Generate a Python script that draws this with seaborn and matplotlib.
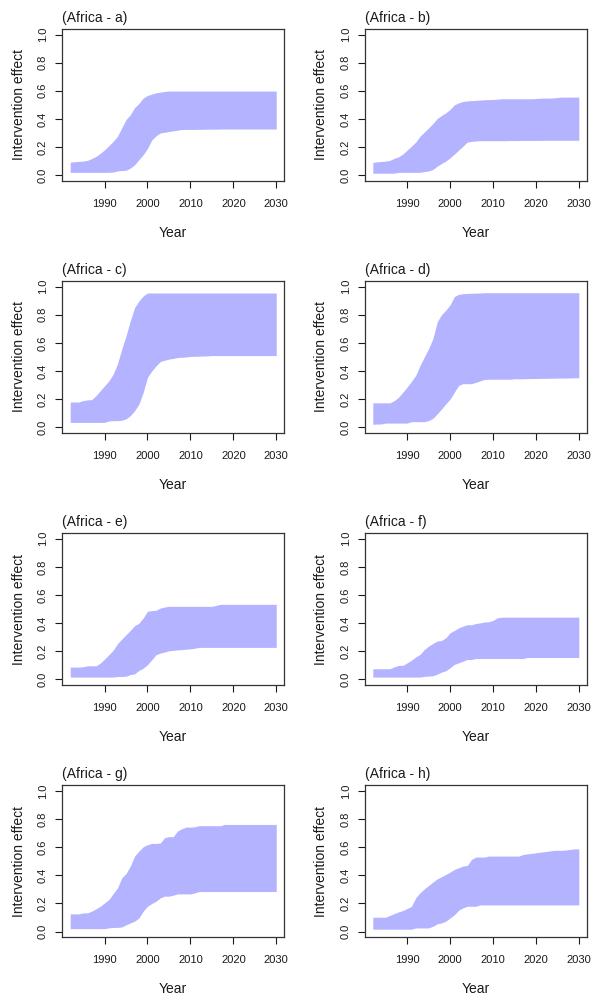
import numpy as np
import pandas as pd
import matplotlib
matplotlib.use("Agg")
import matplotlib.pyplot as plt
import seaborn as sns

# years of the projection, one value per year
years = list(range(1982, 2031))

# lower / upper bounds of the intervention effect
a_upper = [0.093, 0.095, 0.098, 0.10, 0.105, 0.118, 0.133, 0.155, 0.18, 0.21,
           0.24, 0.276, 0.336, 0.395, 0.43, 0.48, 0.51, 0.548, 0.567, 0.576,
           0.586, 0.59, 0.595, 0.598, 0.598, 0.598, 0.598, 0.598, 0.598, 0.598,
           0.598, 0.598, 0.598, 0.598, 0.598, 0.598, 0.598, 0.598, 0.598, 0.598,
           0.598, 0.598, 0.598, 0.598, 0.598, 0.598, 0.598, 0.598, 0.598]
a_lower = [0.02, 0.02, 0.02, 0.02, 0.02, 0.02, 0.02, 0.02, 0.02, 0.02,
           0.022, 0.03, 0.033, 0.035, 0.05, 0.074, 0.11, 0.145, 0.19, 0.25,
           0.28, 0.30, 0.305, 0.31, 0.315, 0.32, 0.325, 0.325, 0.325, 0.325,
           0.326, 0.326, 0.327, 0.327, 0.327, 0.328, 0.328, 0.328, 0.328, 0.328,
           0.328, 0.328, 0.328, 0.328, 0.328, 0.328, 0.328, 0.328, 0.328]

b_upper = [0.09, 0.095, 0.097, 0.10, 0.105, 0.12, 0.13, 0.15, 0.178, 0.206,
           0.235, 0.277, 0.306, 0.336, 0.367, 0.403, 0.424, 0.443, 0.467, 0.50,
           0.514, 0.524, 0.528, 0.53, 0.532, 0.534, 0.536, 0.537, 0.538, 0.54,
           0.543, 0.543, 0.543, 0.543, 0.543, 0.543, 0.543, 0.543, 0.545, 0.547,
           0.548, 0.548, 0.549, 0.552, 0.555, 0.555, 0.555, 0.555, 0.555]
b_lower = [0.014, 0.014, 0.014, 0.014, 0.014, 0.014, 0.02, 0.02, 0.02, 0.02,
           0.02, 0.02, 0.026, 0.03, 0.04, 0.064, 0.083, 0.10, 0.123, 0.15,
           0.178, 0.206, 0.235, 0.24, 0.243, 0.245, 0.245, 0.245, 0.245, 0.245,
           0.245, 0.245, 0.246, 0.246, 0.246, 0.247, 0.247, 0.247, 0.247, 0.247,
           0.248, 0.248, 0.248, 0.248, 0.248, 0.248, 0.248, 0.248, 0.248]

c_upper = [0.18, 0.18, 0.18, 0.19, 0.195, 0.197, 0.225, 0.26, 0.295, 0.33,
           0.378, 0.45, 0.555, 0.65, 0.757, 0.851, 0.898, 0.934, 0.955, 0.955,
           0.955, 0.955, 0.955, 0.955, 0.955, 0.955, 0.955, 0.955, 0.955, 0.955,
           0.955, 0.955, 0.955, 0.955, 0.955, 0.955, 0.955, 0.955, 0.955, 0.955,
           0.955, 0.955, 0.955, 0.955, 0.955, 0.955, 0.955, 0.955, 0.955]
c_lower = [0.035, 0.035, 0.035, 0.035, 0.035, 0.035, 0.035, 0.035, 0.035, 0.045,
           0.047, 0.047, 0.05, 0.06, 0.083, 0.118, 0.165, 0.248, 0.355, 0.40,
           0.437, 0.468, 0.477, 0.485, 0.49, 0.496, 0.498, 0.50, 0.504, 0.505,
           0.506, 0.507, 0.508, 0.51, 0.51, 0.51, 0.51, 0.51, 0.51, 0.51,
           0.51, 0.51, 0.51, 0.51, 0.51, 0.51, 0.51, 0.51, 0.51]

d_upper = [0.174, 0.174, 0.174, 0.174, 0.174, 0.19, 0.214, 0.25, 0.286, 0.326,
           0.369, 0.44, 0.50, 0.56, 0.63, 0.75, 0.80, 0.833, 0.87, 0.93,
           0.945, 0.95, 0.952, 0.953, 0.954, 0.955, 0.957, 0.957, 0.957, 0.957,
           0.957, 0.957, 0.957, 0.957, 0.957, 0.957, 0.957, 0.957, 0.957, 0.957,
           0.957, 0.957, 0.957, 0.957, 0.957, 0.957, 0.957, 0.957, 0.957]
d_lower = [0.022, 0.023, 0.024, 0.03, 0.03, 0.03, 0.03, 0.03, 0.03, 0.04,
           0.04, 0.04, 0.04, 0.048, 0.064, 0.095, 0.13, 0.167, 0.20, 0.25,
           0.298, 0.31, 0.31, 0.31, 0.32, 0.33, 0.34, 0.342, 0.342, 0.342,
           0.342, 0.342, 0.342, 0.345, 0.345, 0.345, 0.346, 0.347, 0.347, 0.348,
           0.348, 0.349, 0.349, 0.35, 0.35, 0.35, 0.351, 0.352, 0.352]

e_upper = [0.088, 0.088, 0.088, 0.09, 0.097, 0.097, 0.097, 0.116, 0.145, 0.176,
           0.207, 0.254, 0.287, 0.318, 0.349, 0.382, 0.40, 0.437, 0.485, 0.49,
           0.492, 0.508, 0.515, 0.52, 0.52, 0.52, 0.52, 0.52, 0.52, 0.52,
           0.52, 0.52, 0.52, 0.52, 0.527, 0.534, 0.534, 0.534, 0.534, 0.534,
           0.534, 0.534, 0.534, 0.534, 0.534, 0.534, 0.534, 0.534, 0.534]
e_lower = [0.017, 0.017, 0.017, 0.017, 0.017, 0.017, 0.017, 0.017, 0.017, 0.017,
           0.017, 0.021, 0.021, 0.023, 0.035, 0.04, 0.064, 0.08, 0.105, 0.14,
           0.176, 0.188, 0.195, 0.204, 0.207, 0.21, 0.212, 0.215, 0.218, 0.222,
           0.228, 0.228, 0.228, 0.228, 0.228, 0.228, 0.228, 0.228, 0.228, 0.228,
           0.228, 0.228, 0.228, 0.228, 0.228, 0.228, 0.228, 0.228, 0.228]

f_upper = [0.076, 0.076, 0.076, 0.076, 0.076, 0.09, 0.10, 0.10, 0.118, 0.137,
           0.16, 0.178, 0.213, 0.237, 0.256, 0.273, 0.277, 0.296, 0.332, 0.348,
           0.367, 0.379, 0.389, 0.389, 0.398, 0.402, 0.408, 0.41, 0.42, 0.438,
           0.443, 0.443, 0.443, 0.443, 0.443, 0.443, 0.443, 0.443, 0.443, 0.443,
           0.443, 0.443, 0.443, 0.443, 0.443, 0.443, 0.443, 0.443, 0.443]
f_lower = [0.017, 0.017, 0.017, 0.017, 0.017, 0.017, 0.017, 0.017, 0.017, 0.017,
           0.017, 0.017, 0.022, 0.024, 0.026, 0.038, 0.052, 0.062, 0.083, 0.107,
           0.118, 0.13, 0.142, 0.142, 0.149, 0.149, 0.149, 0.149, 0.149, 0.149,
           0.149, 0.149, 0.149, 0.149, 0.149, 0.149, 0.156, 0.156, 0.156, 0.156,
           0.156, 0.156, 0.156, 0.156, 0.156, 0.156, 0.156, 0.156, 0.156]

g_upper = [0.126, 0.126, 0.126, 0.133, 0.133, 0.145, 0.162, 0.18, 0.204, 0.228,
           0.27, 0.31, 0.382, 0.413, 0.466, 0.537, 0.572, 0.603, 0.618, 0.627,
           0.627, 0.63, 0.668, 0.675, 0.675, 0.715, 0.732, 0.743, 0.743, 0.745,
           0.753, 0.753, 0.753, 0.753, 0.753, 0.753, 0.762, 0.762, 0.762, 0.762,
           0.762, 0.762, 0.762, 0.762, 0.762, 0.762, 0.762, 0.762, 0.762]
g_lower = [0.021, 0.021, 0.021, 0.021, 0.021, 0.021, 0.021, 0.021, 0.021, 0.027,
           0.029, 0.03, 0.033, 0.048, 0.062, 0.074, 0.097, 0.145, 0.18, 0.20,
           0.216, 0.24, 0.252, 0.252, 0.259, 0.268, 0.268, 0.268, 0.268, 0.275,
           0.285, 0.285, 0.285, 0.285, 0.285, 0.285, 0.285, 0.285, 0.285, 0.285,
           0.285, 0.285, 0.285, 0.285, 0.285, 0.285, 0.285, 0.285, 0.285]

h_upper = [0.102, 0.102, 0.102, 0.102, 0.116, 0.128, 0.14, 0.15, 0.164, 0.18,
           0.24, 0.276, 0.304, 0.328, 0.352, 0.375, 0.39, 0.406, 0.423, 0.442,
           0.454, 0.466, 0.47, 0.513, 0.53, 0.53, 0.53, 0.537, 0.537, 0.537,
           0.537, 0.537, 0.537, 0.537, 0.537, 0.548, 0.553, 0.556, 0.56, 0.565,
           0.568, 0.572, 0.577, 0.578, 0.578, 0.58, 0.585, 0.588, 0.588]
h_lower = [0.017, 0.017, 0.017, 0.017, 0.017, 0.017, 0.017, 0.017, 0.017, 0.017,
           0.026, 0.026, 0.026, 0.026, 0.038, 0.055, 0.062, 0.074, 0.097, 0.12,
           0.152, 0.169, 0.18, 0.18, 0.18, 0.19, 0.19, 0.19, 0.19, 0.19,
           0.19, 0.19, 0.19, 0.19, 0.19, 0.19, 0.19, 0.19, 0.19, 0.19,
           0.19, 0.19, 0.19, 0.19, 0.19, 0.19, 0.19, 0.19, 0.19]

panel_labels = ["a", "b", "c", "d", "e", "f", "g", "h"]
lowers = [a_lower, b_lower, c_lower, d_lower, e_lower, f_lower, g_lower, h_lower]
uppers = [a_upper, b_upper, c_upper, d_upper, e_upper, f_upper, g_upper, h_upper]
x_ticks = [1990, 2000, 2010, 2020, 2030]
y_ticks = [0.0, 0.2, 0.4, 0.6, 0.8, 1.0]

sns.set_style("ticks")
plt.rcParams['font.family'] = ['Liberation Sans', 'DejaVu Sans']
band_color = "#b3b3ff"
ink = "#1a1a1a"


def plot_band(ax, lower, upper, label):
    df = pd.DataFrame({'Year': years, 'lower': lower, 'upper': upper})
    ax.fill_between(df['Year'], df['lower'], df['upper'], color=band_color, linewidth=0)

    # R style axis extension of 4 %
    span = df['Year'].max() - df['Year'].min()
    ax.set_xlim(df['Year'].min() - 0.04 * span, df['Year'].max() + 0.04 * span)
    ax.set_ylim(-0.04, 1.04)

    ax.set_xticks(x_ticks)
    ax.set_xticklabels([str(t) for t in x_ticks], fontsize=8, color=ink)
    ax.set_yticks(y_ticks)
    ax.set_yticklabels([f"{t:.1f}" for t in y_ticks], fontsize=8, color=ink,
                       rotation=90, va='center')
    ax.tick_params(axis='both', direction='out', length=5, width=0.8, color=ink)
    ax.tick_params(axis='y', pad=5)
    ax.tick_params(axis='x', pad=8)
    for sp in ax.spines.values():
        sp.set_visible(True)
        sp.set_linewidth(0.9)
        sp.set_color("#333333")

    ax.set_xlabel('Year', fontsize=10, color=ink, labelpad=12)
    ax.set_ylabel('Intervention effect', fontsize=10, color=ink, labelpad=9)
    ax.set_title(f"(Africa - {label})", loc='left', fontsize=10, color=ink, pad=5)


fig, axes = plt.subplots(4, 2, figsize=(5.96, 9.96), dpi=100)
fig.subplots_adjust(left=0.104, right=0.985, top=0.971, bottom=0.059,
                    wspace=0.36, hspace=0.66)

for ax, lo, up, lab in zip(axes.flat, lowers, uppers, panel_labels):
    plot_band(ax, lo, up, lab)

fig.savefig("out.png", dpi=100, facecolor="white")
